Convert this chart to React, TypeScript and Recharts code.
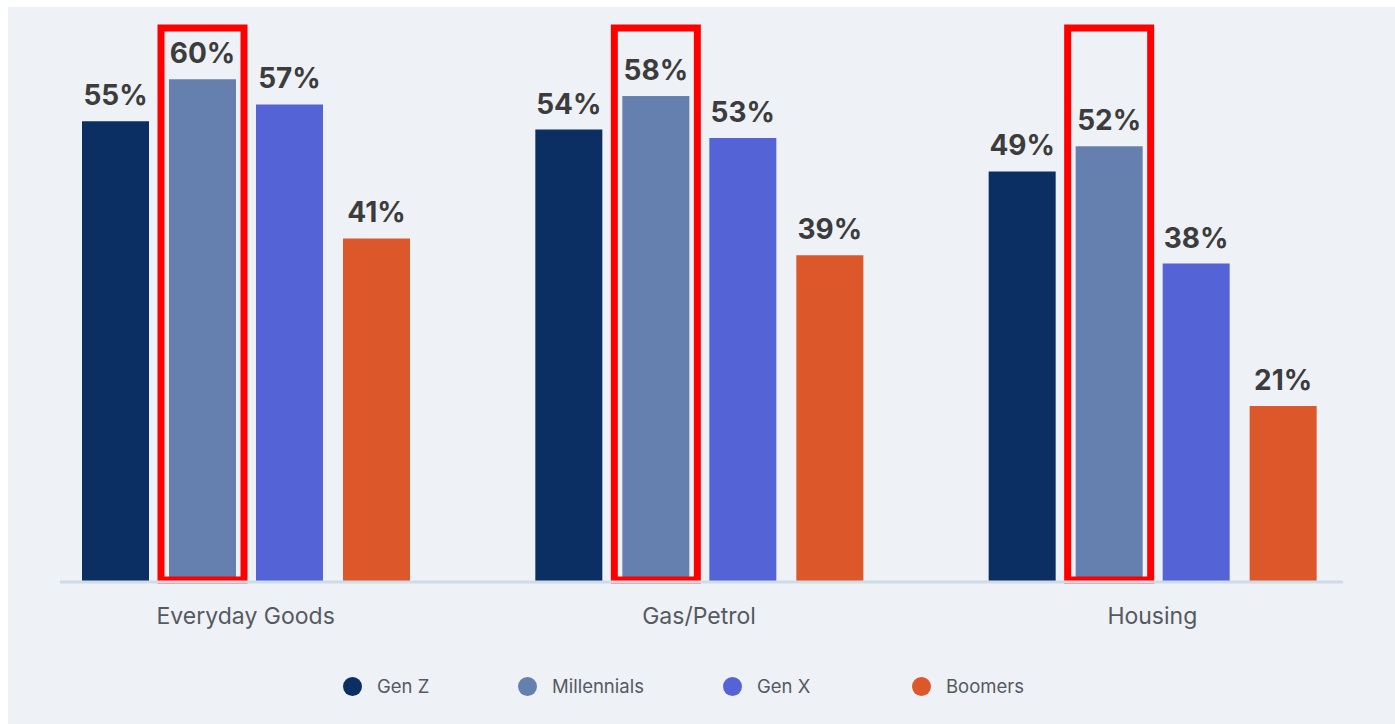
import { Bar, BarChart, LabelList, Legend, XAxis, YAxis } from 'recharts'

const CATEGORIAS = ['Everyday Goods', 'Gas/Petrol', 'Housing']
const GEN_Z = [55, 54, 49]
const MILLENNIALS = [60, 58, 52]
const GEN_X = [57, 53, 38]
const BOOMERS = [41, 39, 21]

const SERIES = [
  { key: 'Gen Z', color: '#0b2f62', width: 175 },
  { key: 'Millennials', color: '#657fae', width: 205 },
  { key: 'Gen X', color: '#5463d6', width: 189 },
  { key: 'Boomers', color: '#dc582a', width: 120 },
]

const FUENTE = 'Inter, "DejaVu Sans", sans-serif'
const TEXTO = '#555a60'

const data = CATEGORIAS.map((cat, i) => ({
  cat,
  'Gen Z': GEN_Z[i],
  Millennials: MILLENNIALS[i],
  'Gen X': GEN_X[i],
  Boomers: BOOMERS[i],
}))

// barra de Millennials con el recuadro rojo de resaltado
function BarraResaltada(props: any) {
  const { x, y, width, height, fill, background } = props
  const top = background ? background.y - 1 : y - 50
  const base = y + height
  return (
    <g>
      <rect x={x} y={y} width={width} height={height} fill={fill} />
      <rect
        x={x - 8}
        y={top}
        width={width + 16}
        height={base - top - 2}
        fill="none"
        stroke="#ff0000"
        strokeWidth={7}
      />
    </g>
  )
}

function Leyenda() {
  return (
    <div style={{ display: 'flex', height: 40, alignItems: 'center', paddingLeft: 283, fontFamily: FUENTE }}>
      {SERIES.map((s) => (
        <div key={s.key} style={{ display: 'flex', alignItems: 'center', width: s.width }}>
          <span
            style={{ width: 19, height: 19, borderRadius: '50%', background: s.color, display: 'inline-block' }}
          />
          <span style={{ marginLeft: 15, fontSize: 18.5, color: TEXTO }}>{s.key}</span>
        </div>
      ))}
    </div>
  )
}

const etiqueta = {
  fontSize: 28,
  fontWeight: 700,
  fill: '#3c3c3c',
  fontFamily: FUENTE,
}

export default function App() {
  return (
    <div
      style={{
        position: 'absolute',
        left: 8,
        top: 7,
        width: 1387,
        height: 717,
        background: '#eef1f6',
        fontFamily: FUENTE,
      }}
    >
      <BarChart
        width={1387}
        height={717}
        data={data}
        margin={{ top: 22, right: 52, left: 52, bottom: 18 }}
        barGap={20}
      >
        <XAxis
          dataKey="cat"
          axisLine={{ stroke: '#cfdbe7', strokeWidth: 3 }}
          tickLine={false}
          tick={{ fontSize: 23, fill: TEXTO, fontFamily: FUENTE }}
          tickMargin={20}
          height={84}
          padding={{ left: -41, right: -36 }}
        />
        <YAxis hide domain={[0, 66]} />
        <Legend verticalAlign="bottom" content={() => <Leyenda />} />
        {SERIES.map((s) => (
          <Bar
            key={s.key}
            dataKey={s.key}
            fill={s.color}
            barSize={67}
            isAnimationActive={false}
            shape={s.key === 'Millennials' ? BarraResaltada : undefined}
          >
            <LabelList
              dataKey={s.key}
              position="top"
              offset={16}
              formatter={(v: any) => `${v}%`}
              style={etiqueta}
            />
          </Bar>
        ))}
      </BarChart>
    </div>
  )
}
